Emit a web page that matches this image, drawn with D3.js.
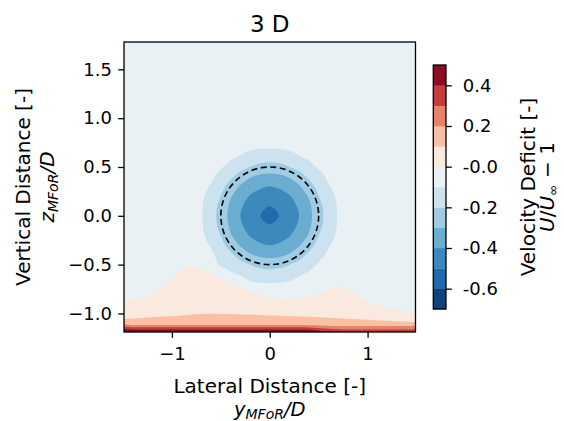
<!DOCTYPE html>
<html><head><meta charset="utf-8">
<script src="https://cdn.jsdelivr.net/npm/d3@7"></script>
<style>
html,body{margin:0;padding:0;background:#fff;}
svg{display:block;font-family:"DejaVu Sans",sans-serif;}
</style></head><body>
<svg id="chart" width="564" height="421"></svg>
<script>
// ---------------- data ----------------
const title = "3 D";
const gridX = [-1.5,-1.4,-1.3,-1.2,-1.1,-1.0,-0.9,-0.8,-0.7,-0.6,-0.5,-0.4,-0.3,-0.2,-0.1,0,0.1,0.2,0.3,0.4,0.5,0.6,0.7,0.8,0.9,1.0,1.1,1.2,1.3,1.4,1.5];
const gridY = [-1.2,-1.1,-1.0,-0.9,-0.8,-0.7,-0.6,-0.5,-0.4,-0.3,-0.2,-0.1,0,0.1,0.2,0.3,0.4,0.5,0.6,0.7,0.8,0.9,1.0,1.1,1.2,1.3,1.4,1.5,1.6,1.7,1.8];
// velocity deficit U/U_inf - 1, rows from y=-1.2 (bottom) to y=1.8 (top)
const velocityDeficit = [
[0.56,0.56,0.56,0.56,0.56,0.56,0.56,0.56,0.56,0.56,0.56,0.56,0.56,0.56,0.56,0.56,0.56,0.56,0.56,0.54,0.50,0.44,0.41,0.40,0.40,0.40,0.40,0.40,0.40,0.40,0.40],
[0.115,0.115,0.115,0.115,0.115,0.115,0.115,0.115,0.115,0.115,0.115,0.115,0.115,0.115,0.115,0.115,0.115,0.115,0.115,0.115,0.115,0.115,0.115,0.115,0.115,0.115,0.115,0.115,0.115,0.115,0.11],
[0.078,0.083,0.087,0.09,0.093,0.094,0.096,0.098,0.099,0.0995,0.099,0.099,0.098,0.098,0.097,0.096,0.0955,0.094,0.0935,0.092,0.09,0.088,0.085,0.082,0.078,0.072,0.065,0.055,0.04,0.015,0.01],
[0.02,0.03,0.04,0.05,0.06,0.07,0.07,0.075,0.075,0.075,0.085,0.075,0.085,0.06,0.057,0.03,0.025,0.025,0.03,0.057,0.05,0.055,0.06,0.05,0.04,0.01,-0.012,-0.037,-0.06,-0.045,-0.057],
[-0.047,-0.037,-0.022,0.001,0.04,0.05,0.055,0.06,0.06,0.055,0.08,0.045,0.075,0.021,-0.01,-0.02,-0.025,-0.025,-0.02,-0.01,0.005,0.025,0.04,0.016,-0.01,-0.04,-0.03,-0.03,-0.03,-0.03,-0.03],
[-0.03,-0.03,-0.03,-0.03,-0.017,0.03,0.04,0.05,0.045,0.035,0.073,0.0045,-0.05,-0.084,-0.091,-0.093,-0.091,-0.084,-0.073,-0.059,-0.048,-0.038,-0.01,-0.03,-0.03,-0.03,-0.03,-0.03,-0.03,-0.03,-0.03],
[-0.03,-0.03,-0.03,-0.03,-0.03,-0.02,0.02,0.04,0.03,0.002,-0.06,-0.086,-0.107,-0.134,-0.151,-0.157,-0.151,-0.134,-0.107,-0.086,-0.066,-0.05,-0.038,-0.03,-0.03,-0.03,-0.03,-0.03,-0.03,-0.03,-0.03],
[-0.03,-0.03,-0.03,-0.03,-0.03,-0.03,-0.03,-0.01,-0.025,-0.066,-0.11,-0.128,-0.169,-0.202,-0.23,-0.24,-0.23,-0.202,-0.169,-0.128,-0.091,-0.066,-0.048,-0.036,-0.03,-0.03,-0.03,-0.03,-0.03,-0.03,-0.03],
[-0.03,-0.03,-0.03,-0.03,-0.03,-0.03,-0.032,-0.041,-0.059,-0.086,-0.128,-0.182,-0.24,-0.293,-0.32,-0.329,-0.32,-0.293,-0.24,-0.182,-0.128,-0.086,-0.059,-0.041,-0.032,-0.03,-0.03,-0.03,-0.03,-0.03,-0.03],
[-0.03,-0.03,-0.03,-0.03,-0.03,-0.03,-0.035,-0.049,-0.073,-0.107,-0.169,-0.24,-0.311,-0.357,-0.388,-0.40,-0.388,-0.357,-0.311,-0.24,-0.169,-0.107,-0.073,-0.049,-0.035,-0.03,-0.03,-0.03,-0.03,-0.03,-0.03],
[-0.03,-0.03,-0.03,-0.03,-0.03,-0.03,-0.038,-0.055,-0.084,-0.134,-0.202,-0.293,-0.357,-0.408,-0.436,-0.45,-0.436,-0.408,-0.357,-0.293,-0.202,-0.134,-0.084,-0.055,-0.038,-0.03,-0.03,-0.03,-0.03,-0.03,-0.03],
[-0.03,-0.03,-0.03,-0.03,-0.03,-0.03,-0.039,-0.059,-0.091,-0.151,-0.23,-0.32,-0.388,-0.436,-0.475,-0.492,-0.475,-0.436,-0.388,-0.32,-0.23,-0.151,-0.091,-0.059,-0.039,-0.03,-0.03,-0.03,-0.03,-0.03,-0.03],
[-0.03,-0.03,-0.03,-0.03,-0.03,-0.03,-0.04,-0.06,-0.093,-0.157,-0.24,-0.329,-0.40,-0.45,-0.497,-0.555,-0.497,-0.45,-0.40,-0.329,-0.24,-0.157,-0.093,-0.06,-0.04,-0.03,-0.03,-0.03,-0.03,-0.03,-0.03],
[-0.03,-0.03,-0.03,-0.03,-0.03,-0.03,-0.039,-0.059,-0.091,-0.151,-0.23,-0.32,-0.388,-0.436,-0.475,-0.499,-0.475,-0.436,-0.388,-0.32,-0.23,-0.151,-0.091,-0.059,-0.039,-0.03,-0.03,-0.03,-0.03,-0.03,-0.03],
[-0.03,-0.03,-0.03,-0.03,-0.03,-0.03,-0.038,-0.055,-0.084,-0.134,-0.202,-0.293,-0.357,-0.408,-0.436,-0.45,-0.436,-0.408,-0.357,-0.293,-0.202,-0.134,-0.084,-0.055,-0.038,-0.03,-0.03,-0.03,-0.03,-0.03,-0.03],
[-0.03,-0.03,-0.03,-0.03,-0.03,-0.03,-0.035,-0.049,-0.073,-0.107,-0.169,-0.24,-0.311,-0.357,-0.388,-0.40,-0.388,-0.357,-0.311,-0.24,-0.169,-0.107,-0.073,-0.049,-0.035,-0.03,-0.03,-0.03,-0.03,-0.03,-0.03],
[-0.03,-0.03,-0.03,-0.03,-0.03,-0.03,-0.032,-0.041,-0.059,-0.086,-0.128,-0.182,-0.24,-0.293,-0.32,-0.329,-0.32,-0.293,-0.24,-0.182,-0.128,-0.086,-0.059,-0.041,-0.032,-0.03,-0.03,-0.03,-0.03,-0.03,-0.03],
[-0.03,-0.03,-0.03,-0.03,-0.03,-0.03,-0.03,-0.036,-0.048,-0.066,-0.091,-0.128,-0.169,-0.202,-0.23,-0.24,-0.23,-0.202,-0.169,-0.128,-0.091,-0.066,-0.048,-0.036,-0.03,-0.03,-0.03,-0.03,-0.03,-0.03,-0.03],
[-0.03,-0.03,-0.03,-0.03,-0.03,-0.03,-0.03,-0.03,-0.038,-0.05,-0.066,-0.086,-0.107,-0.134,-0.151,-0.157,-0.151,-0.134,-0.107,-0.086,-0.066,-0.05,-0.038,-0.03,-0.03,-0.03,-0.03,-0.03,-0.03,-0.03,-0.03],
[-0.03,-0.03,-0.03,-0.03,-0.03,-0.03,-0.03,-0.03,-0.031,-0.038,-0.048,-0.059,-0.073,-0.084,-0.091,-0.093,-0.091,-0.084,-0.073,-0.059,-0.048,-0.038,-0.031,-0.03,-0.03,-0.03,-0.03,-0.03,-0.03,-0.03,-0.03],
[-0.03,-0.03,-0.03,-0.03,-0.03,-0.03,-0.03,-0.03,-0.03,-0.03,-0.036,-0.041,-0.049,-0.055,-0.059,-0.06,-0.059,-0.055,-0.049,-0.041,-0.036,-0.03,-0.03,-0.03,-0.03,-0.03,-0.03,-0.03,-0.03,-0.03,-0.03],
[-0.03,-0.03,-0.03,-0.03,-0.03,-0.03,-0.03,-0.03,-0.03,-0.03,-0.03,-0.032,-0.035,-0.038,-0.039,-0.04,-0.039,-0.038,-0.035,-0.032,-0.03,-0.03,-0.03,-0.03,-0.03,-0.03,-0.03,-0.03,-0.03,-0.03,-0.03],
[-0.03,-0.03,-0.03,-0.03,-0.03,-0.03,-0.03,-0.03,-0.03,-0.03,-0.03,-0.03,-0.03,-0.03,-0.03,-0.03,-0.03,-0.03,-0.03,-0.03,-0.03,-0.03,-0.03,-0.03,-0.03,-0.03,-0.03,-0.03,-0.03,-0.03,-0.03],
[-0.03,-0.03,-0.03,-0.03,-0.03,-0.03,-0.03,-0.03,-0.03,-0.03,-0.03,-0.03,-0.03,-0.03,-0.03,-0.03,-0.03,-0.03,-0.03,-0.03,-0.03,-0.03,-0.03,-0.03,-0.03,-0.03,-0.03,-0.03,-0.03,-0.03,-0.03],
[-0.03,-0.03,-0.03,-0.03,-0.03,-0.03,-0.03,-0.03,-0.03,-0.03,-0.03,-0.03,-0.03,-0.03,-0.03,-0.03,-0.03,-0.03,-0.03,-0.03,-0.03,-0.03,-0.03,-0.03,-0.03,-0.03,-0.03,-0.03,-0.03,-0.03,-0.03],
[-0.03,-0.03,-0.03,-0.03,-0.03,-0.03,-0.03,-0.03,-0.03,-0.03,-0.03,-0.03,-0.03,-0.03,-0.03,-0.03,-0.03,-0.03,-0.03,-0.03,-0.03,-0.03,-0.03,-0.03,-0.03,-0.03,-0.03,-0.03,-0.03,-0.03,-0.03],
[-0.03,-0.03,-0.03,-0.03,-0.03,-0.03,-0.03,-0.03,-0.03,-0.03,-0.03,-0.03,-0.03,-0.03,-0.03,-0.03,-0.03,-0.03,-0.03,-0.03,-0.03,-0.03,-0.03,-0.03,-0.03,-0.03,-0.03,-0.03,-0.03,-0.03,-0.03],
[-0.03,-0.03,-0.03,-0.03,-0.03,-0.03,-0.03,-0.03,-0.03,-0.03,-0.03,-0.03,-0.03,-0.03,-0.03,-0.03,-0.03,-0.03,-0.03,-0.03,-0.03,-0.03,-0.03,-0.03,-0.03,-0.03,-0.03,-0.03,-0.03,-0.03,-0.03],
[-0.03,-0.03,-0.03,-0.03,-0.03,-0.03,-0.03,-0.03,-0.03,-0.03,-0.03,-0.03,-0.03,-0.03,-0.03,-0.03,-0.03,-0.03,-0.03,-0.03,-0.03,-0.03,-0.03,-0.03,-0.03,-0.03,-0.03,-0.03,-0.03,-0.03,-0.03],
[-0.03,-0.03,-0.03,-0.03,-0.03,-0.03,-0.03,-0.03,-0.03,-0.03,-0.03,-0.03,-0.03,-0.03,-0.03,-0.03,-0.03,-0.03,-0.03,-0.03,-0.03,-0.03,-0.03,-0.03,-0.03,-0.03,-0.03,-0.03,-0.03,-0.03,-0.03],
[-0.03,-0.03,-0.03,-0.03,-0.03,-0.03,-0.03,-0.03,-0.03,-0.03,-0.03,-0.03,-0.03,-0.03,-0.03,-0.03,-0.03,-0.03,-0.03,-0.03,-0.03,-0.03,-0.03,-0.03,-0.03,-0.03,-0.03,-0.03,-0.03,-0.03,-0.03]
];
const levels = [-0.7,-0.6,-0.5,-0.4,-0.3,-0.2,-0.1,0,0.1,0.2,0.3,0.4,0.5];
const xDomain = [-1.49, 1.49];
const yDomain = [-1.19, 1.78];
const xTicks = [-1, 0, 1];
const yTicks = [-1, -0.5, 0, 0.5, 1, 1.5];
const cbTicks = [-0.6, -0.4, -0.2, 0, 0.2, 0.4];
const cbTickLabels = ["-0.6", "-0.4", "-0.2", "-0.0", "0.2", "0.4"];
const rotorCenter = [0, 0];
const rotorRadius = [0.5];
const rdbuStops = ["#67001f","#b2182b","#d6604d","#f4a582","#fddbc7","#f7f7f7","#d1e5f0","#92c5de","#4393c3","#2166ac","#053061"];

// ---------------- drawing ----------------
const svg = d3.select("#chart");
const plot = {left:124, right:415.5, top:42, bottom:332};
const cb = {left:433.3, right:446, top:65, bottom:309};
const x = d3.scaleLinear().domain(xDomain).range([plot.left, plot.right]);
const y = d3.scaleLinear().domain(yDomain).range([plot.bottom, plot.top]);

const rdbu = d3.scaleLinear().domain(rdbuStops.map((d,i)=>i/(rdbuStops.length-1))).range(rdbuStops).interpolate(d3.interpolateRgb);
const norm = d3.scaleLinear().domain([levels[0], 0, levels[levels.length-1]]).range([0, 0.5, 1]);
const bandColor = (lo, hi) => rdbu(1 - norm((lo + hi) / 2));

const nx = gridX.length, ny = gridY.length;
const values = velocityDeficit.flat();
const gx = d3.scaleLinear().domain([0.5, nx - 0.5]).range([gridX[0], gridX[nx-1]]);
const gy = d3.scaleLinear().domain([0.5, ny - 0.5]).range([gridY[0], gridY[ny-1]]);
const contours = d3.contours().size([nx, ny]).thresholds(levels.slice(0, -1))(values);

// smooth rendering of each contour ring (Catmull-Rom through the contour vertices)
const ringLine = d3.line().curve(d3.curveCatmullRomClosed.alpha(0.5));
function contourPath(mp) {
  let d = "";
  mp.coordinates.forEach(poly => poly.forEach(ring => {
    const pts = ring.slice(0, -1).map(p => [x(gx(p[0])), y(gy(p[1]))]);
    if (pts.length > 2) d += ringLine(pts);
  }));
  return d;
}

svg.append("defs").append("clipPath").attr("id","clip")
  .append("rect").attr("x",plot.left).attr("y",plot.top)
  .attr("width",plot.right-plot.left).attr("height",plot.bottom-plot.top);

const gPlot = svg.append("g").attr("clip-path","url(#clip)");
gPlot.selectAll("path.band").data(contours).join("path")
  .attr("class","band")
  .attr("d", contourPath)
  .attr("fill-rule","nonzero")
  .attr("fill", d => { const i = levels.indexOf(d.value); return bandColor(levels[i], levels[i+1]); })
  .attr("stroke", "none");

// rotor circle (dashed)
gPlot.append("ellipse")
  .attr("cx", x(rotorCenter[0])).attr("cy", y(rotorCenter[1]))
  .attr("rx", x(rotorCenter[0] + rotorRadius[0]) - x(rotorCenter[0]))
  .attr("ry", y(rotorCenter[1]) - y(rotorCenter[1] + rotorRadius[0]))
  .attr("fill","none").attr("stroke","#000").attr("stroke-width",1.6)
  .attr("stroke-dasharray","6,3.6");

// frame
svg.append("rect").attr("x",plot.left).attr("y",plot.top)
  .attr("width",plot.right-plot.left).attr("height",plot.bottom-plot.top)
  .attr("fill","none").attr("stroke","#000").attr("stroke-width",1.3);

// axes
const fmtX = d3.format("d");
const fmtY = d3.format(".1f");
const xAxis = svg.append("g").attr("transform",`translate(0,${plot.bottom})`)
  .call(d3.axisBottom(x).tickValues(xTicks).tickFormat(fmtX).tickSize(5.8).tickPadding(9));
const yAxis = svg.append("g").attr("transform",`translate(${plot.left},0)`)
  .call(d3.axisLeft(y).tickValues(yTicks).tickFormat(fmtY).tickSize(5.8).tickPadding(6.2));
[xAxis, yAxis].forEach(a => {
  a.select(".domain").remove();
  a.selectAll(".tick line").attr("stroke","#000").attr("stroke-width",1.3);
  a.selectAll(".tick text").attr("fill","#000").attr("font-size",18).attr("font-family","DejaVu Sans");
});

// title
svg.append("text").attr("x",(plot.left+plot.right)/2).attr("y",32)
  .attr("text-anchor","middle").attr("font-size",23).attr("fill","#000").text(title);

// x label
svg.append("text").attr("x",(plot.left+plot.right)/2).attr("y",393)
  .attr("text-anchor","middle").attr("font-size",20).attr("fill","#000").text("Lateral Distance [-]");
const xl2 = svg.append("text").attr("x",(plot.left+plot.right)/2).attr("y",416.3)
  .attr("text-anchor","middle").attr("font-size",19.5).attr("fill","#000");
xl2.append("tspan").attr("font-style","italic").text("y");
xl2.append("tspan").attr("font-style","italic").attr("font-size",14).attr("dy",3).text("MFoR");
xl2.append("tspan").attr("font-style","italic").attr("dy",-3).text("/D");

// y label
const cyMid = (plot.top+plot.bottom)/2;
svg.append("text").attr("transform",`translate(30,${cyMid}) rotate(-90)`)
  .attr("text-anchor","middle").attr("font-size",20).attr("fill","#000").text("Vertical Distance [-]");
const yl2 = svg.append("text").attr("transform",`translate(53.5,${cyMid}) rotate(-90)`)
  .attr("text-anchor","middle").attr("font-size",20).attr("fill","#000");
yl2.append("tspan").attr("font-style","italic").text("z");
yl2.append("tspan").attr("font-style","italic").attr("font-size",14).attr("dy",4).text("MFoR");
yl2.append("tspan").attr("font-style","italic").attr("dy",-4).text("/D");

// colorbar
const yc = d3.scaleLinear().domain([levels[0], levels[levels.length-1]]).range([cb.bottom, cb.top]);
svg.append("g").selectAll("rect").data(d3.pairs(levels)).join("rect")
  .attr("x", cb.left).attr("width", cb.right-cb.left)
  .attr("y", d => yc(d[1])).attr("height", d => yc(d[0]) - yc(d[1]) + 0.3)
  .attr("fill", d => bandColor(d[0], d[1]));
svg.append("rect").attr("x",cb.left).attr("y",cb.top)
  .attr("width",cb.right-cb.left).attr("height",cb.bottom-cb.top)
  .attr("fill","none").attr("stroke","#000").attr("stroke-width",1.3);
const cbAxis = svg.append("g").attr("transform",`translate(${cb.right},0)`)
  .call(d3.axisRight(yc).tickValues(cbTicks).tickFormat((d,i)=>cbTickLabels[i]).tickSize(5.8).tickPadding(11));
cbAxis.select(".domain").remove();
cbAxis.selectAll(".tick line").attr("stroke","#000").attr("stroke-width",1.3);
cbAxis.selectAll(".tick text").attr("fill","#000").attr("font-size",18).attr("font-family","DejaVu Sans");

const cbMid = (cb.top+cb.bottom)/2;
svg.append("text").attr("transform",`translate(535,${cbMid}) rotate(-90)`)
  .attr("text-anchor","middle").attr("font-size",20).attr("fill","#000").text("Velocity Deficit [-]");
const cl2 = svg.append("text").attr("transform",`translate(554,${cbMid}) rotate(-90)`)
  .attr("text-anchor","middle").attr("font-size",20).attr("fill","#000");
cl2.append("tspan").attr("font-style","italic").text("U");
cl2.append("tspan").text("/");
cl2.append("tspan").attr("font-style","italic").text("U");
cl2.append("tspan").attr("font-size",14).attr("dy",4).text("∞");
cl2.append("tspan").attr("dy",-4).text(" − 1");
</script>
</body></html>
